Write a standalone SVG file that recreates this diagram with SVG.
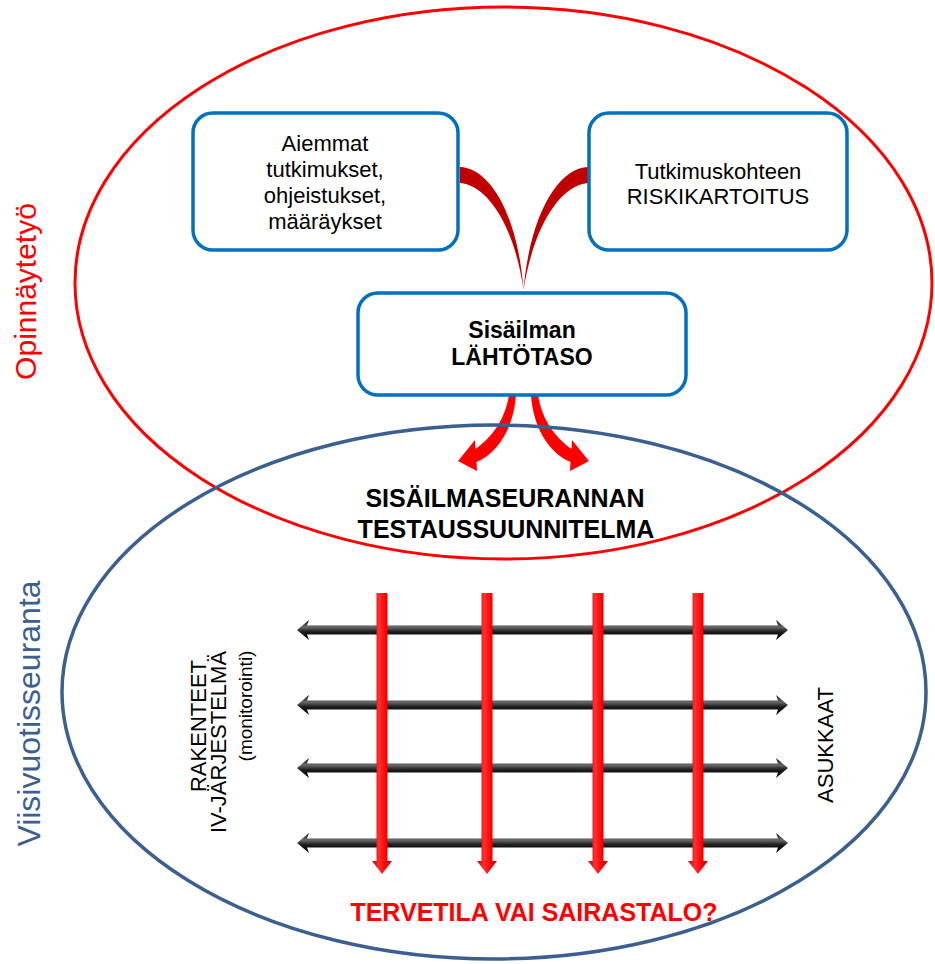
<svg xmlns="http://www.w3.org/2000/svg" width="935" height="964" viewBox="0 0 935 964">
<style>
text{font-family:"Liberation Sans",Arial,sans-serif;}
.box{fill:#fff;stroke:#0070C0;stroke-width:3.5;}
.t{fill:#000;text-anchor:middle;}
.s22{font-size:22px;}
.s23{font-size:23px;}
.s25{font-size:25px;}
.b{font-weight:bold;}
.red{fill:#FF0000;}
.blue{fill:#3B5F8F;}
</style>
<defs>
<linearGradient id="gb" x1="0" y1="0" x2="0" y2="1">
<stop offset="0" stop-color="#0a0a0a"/><stop offset="0.35" stop-color="#6a6a6a"/><stop offset="0.6" stop-color="#1a1a1a"/><stop offset="1" stop-color="#000"/>
</linearGradient>
<linearGradient id="gr" x1="0" y1="0" x2="1" y2="0">
<stop offset="0" stop-color="#C00000"/><stop offset="0.35" stop-color="#FF3030"/><stop offset="0.7" stop-color="#FF0000"/><stop offset="1" stop-color="#B00000"/>
</linearGradient>
<path id="ha" d="M297,0 L309,-10 L307,-4.5 L778,-4.5 L776,-10 L788,0 L776,10 L778,4.5 L307,4.5 L309,10 Z" fill="url(#gb)"/>
<path id="va" d="M-5.5,593 L5.5,593 L5.5,861 L10,861 L0,874 L-10,861 L-5.5,861 Z" fill="url(#gr)"/>
</defs>
<g id="connectors">
<path d="M460,167 C490,168 518,215 523.5,290 C515,230 490,186 460,183 Z" fill="#C00000"/>
<path d="M588,167 C558,168 530,215 523.5,290 C533,230 558,186 588,183 Z" fill="#C00000"/>
<path d="M509,395 L516,395 C514,425 500,452 476.5,462 L477,471 L458,461 L475,440 L475.5,449 C492,437 505,420 509,395 Z" fill="#FF0000"/>
<path d="M538,395 L531,395 C533,425 547,452 570.5,462 L570,471 L589,461 L572,440 L571.5,449 C555,437 542,420 538,395 Z" fill="#FF0000"/>
</g>
<g id="ellipses">
<ellipse id="opinnaytetyo" cx="503.5" cy="283" rx="428.5" ry="276" fill="none" stroke="#FF0000" stroke-width="3"/>
<ellipse id="viisivuotisseuranta" cx="494" cy="692" rx="432" ry="267" fill="none" stroke="#3B5F8F" stroke-width="3.5"/>
</g>
<g id="grid">
<use href="#ha" transform="translate(0,630)"/>
<use href="#ha" transform="translate(0,705)"/>
<use href="#ha" transform="translate(0,768)"/>
<use href="#ha" transform="translate(0,843)"/>
<use href="#va" transform="translate(382,0)"/>
<use href="#va" transform="translate(487,0)"/>
<use href="#va" transform="translate(598,0)"/>
<use href="#va" transform="translate(698,0)"/>
</g>
<g id="node-aiemmat">
<rect class="box" x="193" y="113" width="265" height="137" rx="20"/>
<text class="t s22" x="325" y="151">Aiemmat</text>
<text class="t s22" x="325" y="177">tutkimukset,</text>
<text class="t s22" x="325" y="203">ohjeistukset,</text>
<text class="t s22" x="325" y="229">määräykset</text>
</g>
<g id="node-riski">
<rect class="box" x="589" y="113" width="258" height="137" rx="20"/>
<text class="t s22" x="718" y="179">Tutkimuskohteen</text>
<text class="t s22" x="718" y="204">RISKIKARTOITUS</text>
</g>
<g id="node-lahtotaso">
<rect class="box" x="358" y="293" width="328" height="102" rx="20"/>
<text class="t b s23" x="522" y="338">Sisäilman</text>
<text class="t b s23" x="522" y="365">LÄHTÖTASO</text>
</g>
<g id="node-suunnitelma">
<text class="t b s25" x="505" y="507">SISÄILMASEURANNAN</text>
<text class="t b s25" x="506" y="538">TESTAUSSUUNNITELMA</text>
</g>
<g id="node-tulos">
<text class="t b s25 red" x="534" y="921">TERVETILA VAI SAIRASTALO?</text>
</g>
<g id="labels">
<text class="t red" style="font-size:30px" transform="translate(36,291.5) rotate(-90)">Opinnäytetyö</text>
<text class="t blue" style="font-size:32px" transform="translate(40,713.5) rotate(-90)">Viisivuotisseuranta</text>
<text class="t s22" transform="translate(206,726) rotate(-90)">RAKENTEET</text>
<text class="t s22" transform="translate(226,742) rotate(-90)">IV-JÄRJESTELMÄ</text>
<text class="t" style="font-size:19px" transform="translate(252,706) rotate(-90)">(monitorointi)</text>
<text class="t s22" transform="translate(833,745) rotate(-90)">ASUKKAAT</text>
</g>
</svg>
